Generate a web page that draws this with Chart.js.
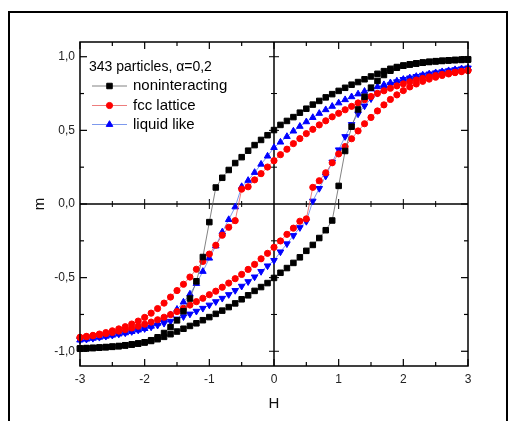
<!DOCTYPE html>
<html lang="en">
<head>
<meta charset="UTF-8" />
<title>Hysteresis loops, 343 particles</title>
<script src="https://cdn.jsdelivr.net/npm/chart.js"></script>
<style>
  html, body { margin:0; padding:0; background:#fff; }
  #wrap { position:relative; width:514px; height:421px; }
</style>
</head>
<body>
<div id="wrap"><canvas id="loopChart" width="514" height="421"></canvas></div>
<script>
// field values, one per marker, for every branch
const fieldH = [-3.0,-2.9,-2.8,-2.7,-2.6,-2.5,-2.4,-2.3,-2.2,-2.1,-2.0,-1.9,-1.8,-1.7,-1.6,-1.5,-1.4,-1.3,-1.2,-1.1,
  -1.0,-0.9,-0.8,-0.7,-0.6,-0.5,-0.4,-0.3,-0.2,-0.1,0.0,0.1,0.2,0.3,0.4,0.5,0.6,0.7,0.8,0.9,
  1.0,1.1,1.2,1.3,1.4,1.5,1.6,1.7,1.8,1.9,2.0,2.1,2.2,2.3,2.4,2.5,2.6,2.7,2.8,2.9,3.0];

// noninteracting: descending branch / ascending branch
const nonDesc = [-0.980,-0.978,-0.976,-0.974,-0.971,-0.968,-0.964,-0.959,-0.953,-0.947,-0.939,-0.925,-0.905,-0.876,-0.836,-0.790,-0.728,-0.642,-0.525,-0.360,
  -0.123,0.112,0.178,0.231,0.278,0.318,0.362,0.400,0.435,0.467,0.502,0.537,0.564,0.590,0.620,0.647,0.675,0.700,0.724,0.746,
  0.768,0.789,0.810,0.828,0.847,0.866,0.884,0.902,0.918,0.930,0.940,0.948,0.955,0.961,0.966,0.970,0.973,0.976,0.979,0.981,0.983];
const nonAsc = [-0.983,-0.981,-0.979,-0.976,-0.973,-0.970,-0.966,-0.961,-0.955,-0.948,-0.940,-0.930,-0.918,-0.902,-0.884,-0.866,-0.847,-0.828,-0.810,-0.789,
  -0.768,-0.746,-0.724,-0.700,-0.675,-0.647,-0.620,-0.590,-0.564,-0.537,-0.502,-0.467,-0.435,-0.400,-0.362,-0.318,-0.278,-0.231,-0.178,-0.112,
  0.123,0.360,0.525,0.642,0.728,0.790,0.836,0.876,0.905,0.925,0.939,0.947,0.953,0.959,0.964,0.968,0.971,0.974,0.976,0.978,0.980];

// fcc lattice
const fccDesc = [-0.905,-0.899,-0.892,-0.883,-0.873,-0.861,-0.848,-0.833,-0.815,-0.795,-0.770,-0.741,-0.710,-0.673,-0.632,-0.588,-0.545,-0.496,-0.443,-0.390,
  -0.340,-0.280,-0.212,-0.158,-0.113,0.101,0.117,0.164,0.206,0.251,0.294,0.335,0.372,0.410,0.444,0.478,0.507,0.537,0.565,0.592,
  0.616,0.640,0.663,0.686,0.708,0.730,0.751,0.769,0.786,0.802,0.816,0.830,0.842,0.853,0.863,0.872,0.880,0.888,0.895,0.901,0.907];
const fccAsc = [-0.907,-0.901,-0.895,-0.888,-0.880,-0.872,-0.863,-0.853,-0.842,-0.830,-0.816,-0.802,-0.786,-0.769,-0.751,-0.730,-0.708,-0.686,-0.663,-0.640,
  -0.616,-0.592,-0.565,-0.537,-0.507,-0.478,-0.444,-0.410,-0.372,-0.335,-0.294,-0.251,-0.206,-0.164,-0.117,-0.101,0.113,0.158,0.212,0.280,
  0.340,0.390,0.443,0.496,0.545,0.588,0.632,0.673,0.710,0.741,0.770,0.795,0.815,0.833,0.848,0.861,0.873,0.883,0.892,0.899,0.905];

// liquid like
const liqDesc = [-0.924,-0.918,-0.912,-0.905,-0.898,-0.891,-0.883,-0.875,-0.866,-0.856,-0.846,-0.830,-0.810,-0.784,-0.752,-0.715,-0.666,-0.612,-0.540,-0.458,
  -0.368,-0.285,-0.190,-0.106,-0.020,0.118,0.160,0.214,0.270,0.325,0.383,0.420,0.458,0.495,0.527,0.558,0.587,0.615,0.640,0.663,
  0.686,0.708,0.728,0.747,0.765,0.781,0.796,0.810,0.823,0.835,0.846,0.856,0.866,0.875,0.883,0.891,0.898,0.905,0.912,0.918,0.924];
const liqAsc = [-0.924,-0.918,-0.912,-0.905,-0.898,-0.891,-0.883,-0.875,-0.866,-0.856,-0.846,-0.835,-0.823,-0.810,-0.796,-0.781,-0.765,-0.747,-0.728,-0.708,
  -0.686,-0.663,-0.640,-0.615,-0.587,-0.558,-0.527,-0.495,-0.458,-0.420,-0.383,-0.325,-0.270,-0.214,-0.160,-0.118,0.020,0.106,0.190,0.285,
  0.368,0.458,0.540,0.612,0.666,0.715,0.752,0.784,0.810,0.830,0.846,0.856,0.866,0.875,0.883,0.891,0.898,0.905,0.912,0.918,0.924];

const xTicks = [-3, -2, -1, 0, 1, 2, 3];
const xTickLabels = ['-3', '-2', '-1', '0', '1', '2', '3'];
const xMinor = [-2.5, -1.5, -0.5, 0.5, 1.5, 2.5];
const yTicks = [-1.0, -0.5, 0.0, 0.5, 1.0];
const yTickLabels = ['-1,0', '-0,5', '0,0', '0,5', '1,0'];
const yMinor = [-0.75, -0.25, 0.25, 0.75];

const legendTitle = '343 particles, \u03b1=0,2';
const seriesNames = ['noninteracting', 'fcc lattice', 'liquid like'];

const FONT = "'Liberation Sans', Arial, sans-serif";

const styles = [
  { color: '#000000', line: 'rgba(90,90,90,0.75)', shape: 'rect', r: 3.9 },
  { color: '#ff0000', line: 'rgba(230,70,70,0.7)', shape: 'circle', r: 3.1 },
  { color: '#0000ff', line: 'rgba(70,110,230,0.7)', shape: 'triangle', r: 3.8 }
];

function branch(name, ys, st, rot) {
  return {
    label: name,
    data: fieldH.map((h, i) => ({ x: h, y: ys[i] })),
    showLine: true,
    borderColor: st.line,
    borderWidth: 1,
    pointStyle: st.shape,
    pointRadius: st.r,
    pointRotation: rot,
    pointBackgroundColor: st.color,
    pointBorderColor: st.color,
    pointBorderWidth: 1,
    clip: false
  };
}

const datasets = [
  branch(seriesNames[0], nonDesc, styles[0], 0),
  branch(seriesNames[0], nonAsc, styles[0], 0),
  branch(seriesNames[1], fccDesc, styles[1], 0),
  branch(seriesNames[1], fccAsc, styles[1], 0),
  branch(seriesNames[2], liqDesc, styles[2], 0),
  branch(seriesNames[2], liqAsc, styles[2], 180)
];

function line(ctx, x1, y1, x2, y2) {
  ctx.beginPath(); ctx.moveTo(x1, y1); ctx.lineTo(x2, y2); ctx.stroke();
}

// zero cross lines with their own ticks, drawn under the markers
const zeroLines = {
  id: 'zeroLines',
  beforeDatasetsDraw(chart) {
    const { ctx, chartArea: a, scales: { x, y } } = chart;
    const x0 = x.getPixelForValue(0), y0 = y.getPixelForValue(0);
    ctx.save();
    ctx.strokeStyle = '#000';
    ctx.lineWidth = 1.5;
    line(ctx, a.left, y0, a.right, y0);
    line(ctx, x0, a.top, x0, a.bottom);
    ctx.lineWidth = 1;
    xTicks.forEach(v => { if (v !== 0 && Math.abs(v) < 3) { const p = x.getPixelForValue(v); line(ctx, p, y0 - 5, p, y0 + 5); } });
    xMinor.forEach(v => { const p = x.getPixelForValue(v); line(ctx, p, y0 - 3, p, y0 + 3); });
    yTicks.forEach(v => { if (v !== 0) { const p = y.getPixelForValue(v); line(ctx, x0 - 5, p, x0 + 5, p); } });
    yMinor.forEach(v => { const p = y.getPixelForValue(v); line(ctx, x0 - 3, p, x0 + 3, p); });
    ctx.restore();
  }
};

// plot box with inward ticks on all four sides, and the page frame
const boxTicks = {
  id: 'boxTicks',
  afterDatasetsDraw(chart) {
    const { ctx, chartArea: a, scales: { x, y } } = chart;
    ctx.save();
    ctx.strokeStyle = '#000';
    ctx.lineWidth = 1.5;
    ctx.strokeRect(a.left, a.top, a.right - a.left, a.bottom - a.top);
    ctx.lineWidth = 1.2;
    const tx = (v, len) => { const p = x.getPixelForValue(v); line(ctx, p, a.bottom, p, a.bottom - len); line(ctx, p, a.top, p, a.top + len); };
    const ty = (v, len) => { const p = y.getPixelForValue(v); line(ctx, a.left, p, a.left + len, p); line(ctx, a.right, p, a.right - len, p); };
    xTicks.forEach(v => tx(v, 7));
    xMinor.forEach(v => tx(v, 4));
    yTicks.forEach(v => ty(v, 7));
    yMinor.forEach(v => ty(v, 4));
    ctx.lineWidth = 2;
    ctx.strokeRect(9, 12, 498, 440);
    ctx.restore();
  }
};

// legend block inside the plot, top left
const insideLegend = {
  id: 'insideLegend',
  afterDraw(chart) {
    const ctx = chart.ctx;
    ctx.save();
    ctx.fillStyle = '#000';
    ctx.textBaseline = 'middle';
    ctx.font = '14px ' + FONT;
    ctx.fillText(legendTitle, 89, 67);
    ctx.font = '15px ' + FONT;
    const rows = [86, 105.5, 124.5];
    seriesNames.forEach((name, i) => {
      const st = styles[i], yy = rows[i];
      ctx.strokeStyle = st.line;
      ctx.lineWidth = 1;
      line(ctx, 92, yy, 127, yy);
      ctx.fillStyle = st.color;
      ctx.strokeStyle = st.color;
      Chart.helpers.drawPoint(ctx, { pointStyle: st.shape, radius: st.r, rotation: 0, borderWidth: 1 }, 109.5, yy);
      ctx.fillStyle = '#000';
      ctx.fillText(name, 133, yy);
    });
    ctx.restore();
  }
};

new Chart(document.getElementById('loopChart'), {
  type: 'scatter',
  data: { datasets },
  options: {
    responsive: false,
    animation: false,
    devicePixelRatio: 1,
    layout: { padding: { top: 42, right: 46, bottom: 0, left: 0 } },
    plugins: { legend: { display: false }, tooltip: { enabled: false } },
    scales: {
      x: {
        type: 'linear', position: 'bottom', min: -3, max: 3,
        grid: { display: false, drawTicks: false }, border: { display: false },
        afterBuildTicks: s => { s.ticks = xTicks.map(v => ({ value: v })); },
        afterFit: s => { s.height = 55; },
        ticks: { padding: 6, color: '#222', maxRotation: 0, autoSkip: false,
          font: { family: FONT, size: 12 }, callback: (v, i) => xTickLabels[i] },
        title: { display: true, text: 'H', color: '#111', font: { family: FONT, size: 15 }, padding: { top: 0, bottom: 8 } }
      },
      y: {
        type: 'linear', position: 'left', min: -1.1, max: 1.1,
        grid: { display: false, drawTicks: false }, border: { display: false },
        afterBuildTicks: s => { s.ticks = yTicks.map(v => ({ value: v })); },
        afterFit: s => { s.width = 80; },
        ticks: { padding: 5, color: '#222', autoSkip: false,
          font: { family: FONT, size: 12 }, callback: (v, i) => yTickLabels[i] },
        title: { display: true, text: 'm', color: '#111', font: { family: FONT, size: 15 }, padding: { top: 31, bottom: 0 } }
      }
    }
  },
  plugins: [zeroLines, boxTicks, insideLegend]
});
</script>
</body>
</html>
